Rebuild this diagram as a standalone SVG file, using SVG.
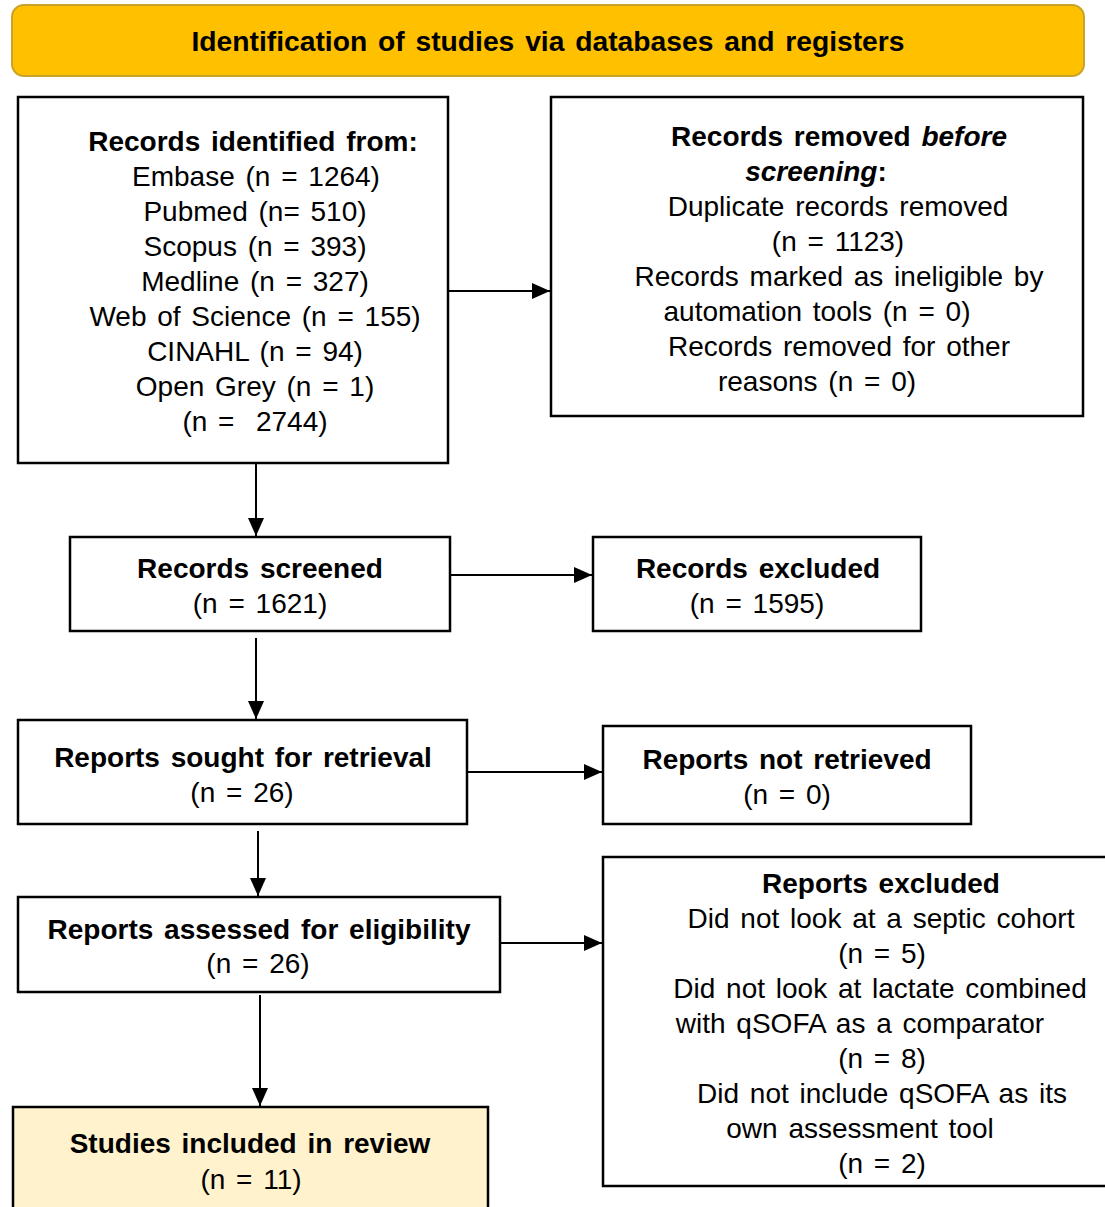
<svg xmlns="http://www.w3.org/2000/svg" width="1105" height="1207" viewBox="0 0 1105 1207">
<style>
.box{fill:#fff;stroke:#000;stroke-width:2.5}
.t{font-family:"Liberation Sans",Arial,sans-serif;font-size:28px;word-spacing:3px;fill:#000;text-anchor:middle}
.b{font-weight:bold}
.conn{stroke:#000;stroke-width:2;fill:none}
</style>
<defs>
<marker id="arr" markerUnits="userSpaceOnUse" markerWidth="20" markerHeight="16" refX="18" refY="8" orient="auto">
<path d="M0,0 L18,8 L0,16 Z" fill="#000"/>
</marker>
</defs>
<rect width="1105" height="1207" fill="#fff"/>
<g id="header">
<rect x="12" y="5" width="1072" height="71" rx="12" fill="#FFC000" stroke="#C9A227" stroke-width="2"/>
<text class="t b" x="548" y="51" font-size="26" word-spacing="0" textLength="713" lengthAdjust="spacingAndGlyphs">Identification of studies via databases and registers</text>
</g>
<g id="identified">
<rect class="box" x="18" y="97" width="430" height="366"/>
<text class="t b" x="253" y="151">Records identified from:</text>
<text class="t" x="256" y="186">Embase (n = 1264)</text>
<text class="t" x="255" y="221">Pubmed (n= 510)</text>
<text class="t" x="255" y="256">Scopus (n = 393)</text>
<text class="t" x="255" y="291">Medline (n = 327)</text>
<text class="t" x="255" y="326">Web of Science (n = 155)</text>
<text class="t" x="255" y="361">CINAHL (n = 94)</text>
<text class="t" x="255" y="396">Open Grey (n = 1)</text>
<text class="t" x="255" y="431" xml:space="preserve">(n =  2744)</text>
</g>
<g id="removed">
<rect class="box" x="551" y="97" width="532" height="319"/>
<text class="t b" x="839" y="146">Records removed <tspan font-style="italic">before</tspan></text>
<text class="t b" x="816" y="181"><tspan font-style="italic">screening</tspan>:</text>
<text class="t" x="838" y="216">Duplicate records removed</text>
<text class="t" x="838" y="251">(n = 1123)</text>
<text class="t" x="839" y="286">Records marked as ineligible by</text>
<text class="t" x="817" y="321">automation tools (n = 0)</text>
<text class="t" x="839" y="356">Records removed for other</text>
<text class="t" x="817" y="391">reasons (n = 0)</text>
</g>
<g id="screened">
<rect class="box" x="70" y="537" width="380" height="94"/>
<text class="t b" x="260" y="578">Records screened</text>
<text class="t" x="260" y="613">(n = 1621)</text>
</g>
<g id="excluded">
<rect class="box" x="593" y="537" width="328" height="94"/>
<text class="t b" x="758" y="578">Records excluded</text>
<text class="t" x="757" y="613">(n = 1595)</text>
</g>
<g id="sought">
<rect class="box" x="18" y="720" width="449" height="104"/>
<text class="t b" x="243" y="767">Reports sought for retrieval</text>
<text class="t" x="242" y="802">(n = 26)</text>
</g>
<g id="notretrieved">
<rect class="box" x="603" y="726" width="368" height="98"/>
<text class="t b" x="787" y="769">Reports not retrieved</text>
<text class="t" x="787" y="804">(n = 0)</text>
</g>
<g id="assessed">
<rect class="box" x="18" y="897" width="482" height="95"/>
<text class="t b" x="259" y="939">Reports assessed for eligibility</text>
<text class="t" x="258" y="973">(n = 26)</text>
</g>
<g id="reportsexcluded">
<rect class="box" x="603" y="857" width="510" height="329"/>
<text class="t b" x="881" y="893">Reports excluded</text>
<text class="t" x="881" y="928">Did not look at a septic cohort</text>
<text class="t" x="882" y="963">(n = 5)</text>
<text class="t" x="880" y="998">Did not look at lactate combined</text>
<text class="t" x="860" y="1033">with qSOFA as a comparator</text>
<text class="t" x="882" y="1068">(n = 8)</text>
<text class="t" x="882" y="1103">Did not include qSOFA as its</text>
<text class="t" x="860" y="1138">own assessment tool</text>
<text class="t" x="882" y="1173">(n = 2)</text>
</g>
<g id="included">
<rect x="13" y="1107" width="475" height="110" fill="#FFF2CC" stroke="#000" stroke-width="2.5"/>
<text class="t b" x="250" y="1153">Studies included in review</text>
<text class="t" x="251" y="1189">(n = 11)</text>
</g>
<g id="connectors">
<line class="conn" x1="448" y1="291" x2="550" y2="291" marker-end="url(#arr)"/>
<line class="conn" x1="256" y1="463" x2="256" y2="536" marker-end="url(#arr)"/>
<line class="conn" x1="450" y1="575" x2="592" y2="575" marker-end="url(#arr)"/>
<line class="conn" x1="256" y1="638" x2="256" y2="719" marker-end="url(#arr)"/>
<line class="conn" x1="467" y1="772" x2="602" y2="772" marker-end="url(#arr)"/>
<line class="conn" x1="258" y1="831" x2="258" y2="896" marker-end="url(#arr)"/>
<line class="conn" x1="500" y1="943" x2="602" y2="943" marker-end="url(#arr)"/>
<line class="conn" x1="260" y1="995" x2="260" y2="1106" marker-end="url(#arr)"/>
</g>
</svg>
